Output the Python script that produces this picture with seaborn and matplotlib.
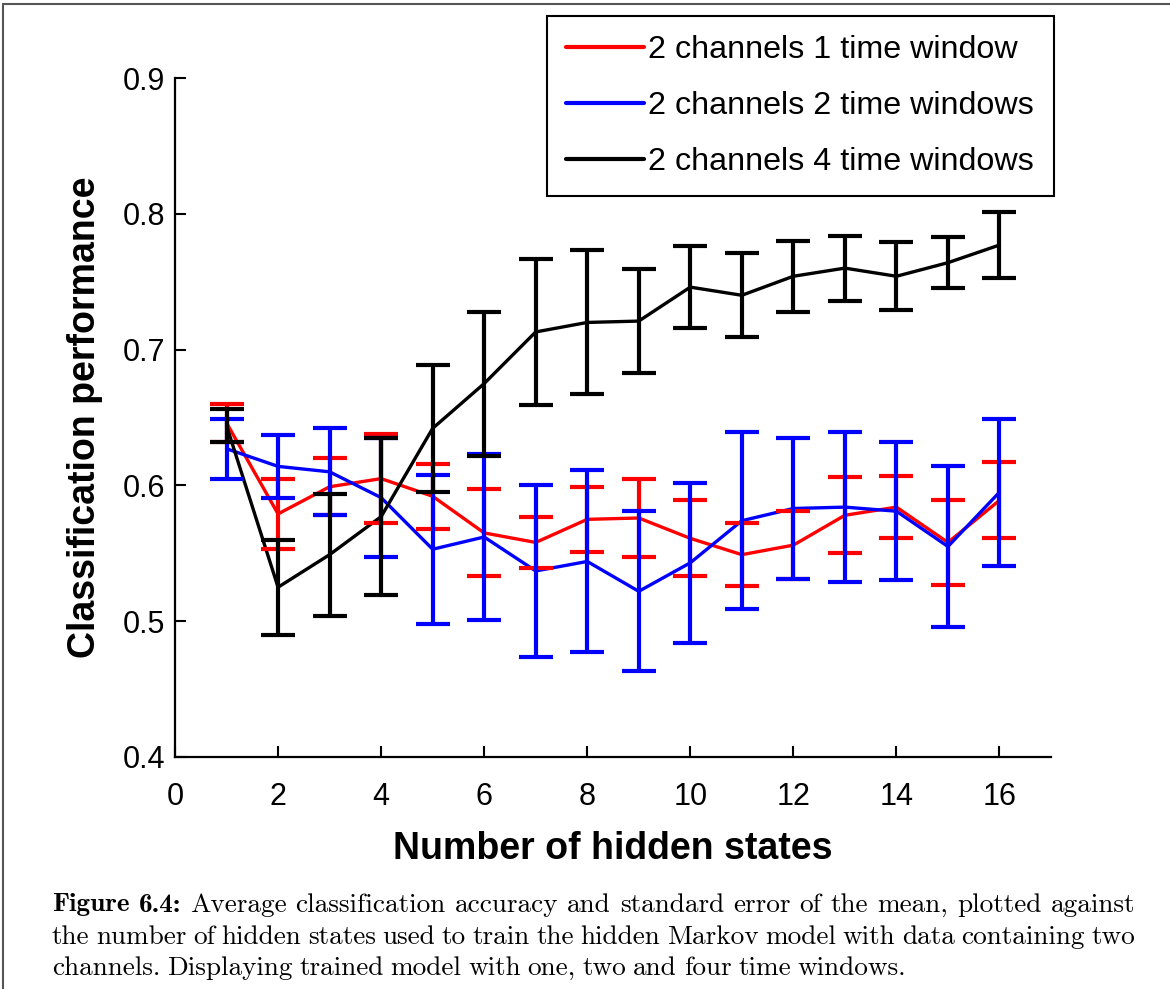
import numpy as np
import pandas as pd
import seaborn as sns
import matplotlib.pyplot as plt
from matplotlib.lines import Line2D

# hidden states on the x axis
states = list(range(1, 17))

# 2 channels, 1 time window (red)
acc_1tw = [0.646, 0.579, 0.599, 0.605, 0.592, 0.565, 0.558, 0.575,
           0.576, 0.561, 0.549, 0.556, 0.578, 0.584, 0.558, 0.589]
sem_1tw = [0.014, 0.026, 0.021, 0.033, 0.024, 0.032, 0.019, 0.024,
           0.029, 0.028, 0.023, 0.025, 0.028, 0.023, 0.031, 0.028]

# 2 channels, 2 time windows (blue)
acc_2tw = [0.627, 0.614, 0.610, 0.591, 0.553, 0.562, 0.537, 0.544,
           0.522, 0.543, 0.574, 0.583, 0.584, 0.581, 0.555, 0.595]
sem_2tw = [0.022, 0.023, 0.032, 0.044, 0.055, 0.061, 0.063, 0.067,
           0.059, 0.059, 0.065, 0.052, 0.055, 0.051, 0.059, 0.054]

# 2 channels, 4 time windows (black)
acc_4tw = [0.644, 0.525, 0.549, 0.577, 0.642, 0.675, 0.713, 0.720,
           0.721, 0.746, 0.740, 0.754, 0.760, 0.754, 0.764, 0.777]
sem_4tw = [0.012, 0.035, 0.045, 0.058, 0.047, 0.053, 0.054, 0.053,
           0.038, 0.030, 0.031, 0.026, 0.024, 0.025, 0.019, 0.024]

labels = ["2 channels 1 time window", "2 channels 2 time windows",
          "2 channels 4 time windows"]
colors = ["#ff0000", "#0000ff", "#000000"]

caption = [
    "Average classification accuracy and standard error of the mean, plotted against",
    "the number of hidden states used to train the hidden Markov model with data containing two",
    "channels. Displaying trained model with one, two and four time windows.",
]

#%% build long table for seaborn
df = pd.concat([
    pd.DataFrame({"states": states, "acc": a, "sem": s, "model": lab})
    for a, s, lab in zip([acc_1tw, acc_2tw, acc_4tw],
                         [sem_1tw, sem_2tw, sem_4tw], labels)
])

sns.set_style("ticks")
plt.rcParams["font.family"] = ["Liberation Sans", "DejaVu Sans"]
plt.rcParams["text.color"] = "black"
plt.rcParams["axes.labelcolor"] = "black"
plt.rcParams["xtick.color"] = "black"
plt.rcParams["ytick.color"] = "black"
plt.rcParams["axes.edgecolor"] = "black"

fig = plt.figure(figsize=(11.7, 9.89), dpi=100)
ax = fig.add_axes([175 / 1170, 1 - 757 / 989, 876 / 1170, 679 / 989])

sns.lineplot(data=df, x="states", y="acc", hue="model", hue_order=labels,
             palette=colors, linewidth=2.4, legend=False, ax=ax)
for lab, c in zip(labels, colors):
    d = df[df["model"] == lab]
    ax.errorbar(d["states"], d["acc"], yerr=d["sem"], fmt="none", ecolor=c,
                elinewidth=3, capsize=12, capthick=3)

ax.set_xlim(0, 17)
ax.set_ylim(0.4, 0.9)
ax.set_xticks(range(0, 17, 2))
ax.set_yticks([0.4, 0.5, 0.6, 0.7, 0.8, 0.9])
ax.set_yticklabels(["0.4", "0.5", "0.6", "0.7", "0.8", "0.9"])
ax.tick_params(direction="in", length=8, width=1.5, labelsize=22)
ax.tick_params(axis="x", pad=18)
ax.tick_params(axis="y", pad=7)
for side in ["top", "right"]:
    ax.spines[side].set_visible(False)
for side in ["left", "bottom"]:
    ax.spines[side].set_linewidth(1.6)
ax.set_xlabel("Number of hidden states", fontsize=27, fontweight="bold", labelpad=14)
ax.set_ylabel("Classification performance", fontsize=27, fontweight="bold", labelpad=14)

handles = [Line2D([], [], color=c, lw=3) for c in colors]
leg = fig.legend(handles, labels, loc="upper left",
                 bbox_to_anchor=(547 / 1170, 1 - 16 / 989), borderaxespad=0,
                 fontsize=23.2, handlelength=2.4, handletextpad=0.15,
                 labelspacing=0.8, borderpad=0.6, fancybox=False,
                 framealpha=1, edgecolor="black")
leg.get_frame().set_linewidth(1.5)

# page frame lines
fig.add_artist(Line2D([3 / 1170, 3 / 1170], [0, 1 - 4 / 989], color="#555555", lw=1.5))
fig.add_artist(Line2D([3 / 1170, 1], [1 - 4 / 989, 1 - 4 / 989], color="#555555", lw=1.5))

# caption: justified lines like the LaTeX page
cap_size = 19.6
renderer = fig.canvas.get_renderer()


def put_line(words, y_px, justify):
    x0, x1 = 52, 1135
    arts = [fig.text(0, 1 - y_px / 989, w, family=fam, fontsize=cap_size, va="center")
            for w, fam in words]
    widths = [a.get_window_extent(renderer).width for a in arts]
    space = 6.8
    if justify:
        space = (x1 - x0 - sum(widths)) / (len(arts) - 1)
    x = x0
    for a, w in zip(arts, widths):
        a.set_x(x / 1170)
        x += w + space


put_line([("Figure", "cmb10"), ("6.4:", "cmb10")] +
         [(w, "cmr10") for w in caption[0].split()], 905, True)
put_line([(w, "cmr10") for w in caption[1].split()], 937, True)
put_line([(w, "cmr10") for w in caption[2].split()], 968, False)

fig.savefig("out.png", dpi=100)
